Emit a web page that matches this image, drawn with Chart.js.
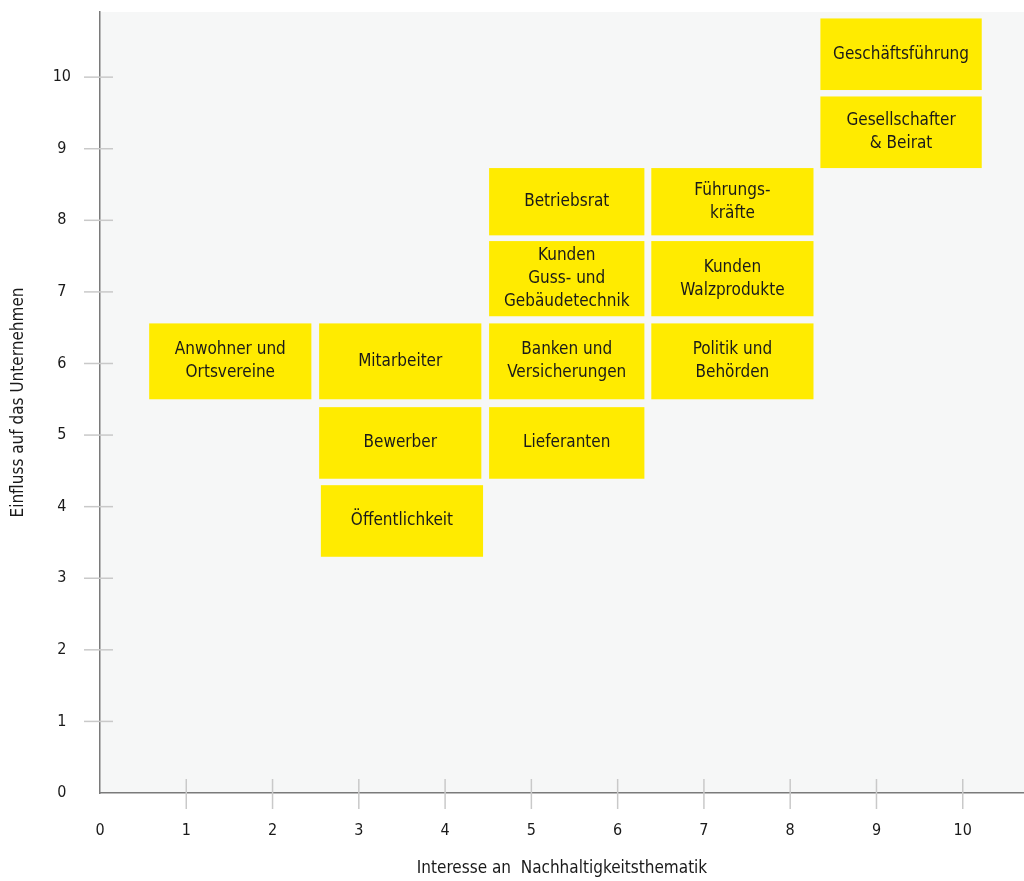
<!DOCTYPE html>
<html lang="de">
<head>
<meta charset="utf-8">
<title>Stakeholder-Matrix</title>
<script src="https://cdn.jsdelivr.net/npm/chart.js@4/dist/chart.umd.min.js"></script>
<style>
  body { margin: 0; background: #fff; }
  canvas { display: block; }
</style>
</head>
<body>
<canvas id="matrixChart" width="1024" height="881"></canvas>
<script>
// Stakeholder groups (each entry is one line of text in its box)
const groups = [
    ['Geschäftsführung'],
    ['Gesellschafter', '& Beirat'],
    ['Betriebsrat'],
    ['Führungs-', 'kräfte'],
    ['Kunden', 'Guss- und', 'Gebäudetechnik'],
    ['Kunden', 'Walzprodukte'],
    ['Anwohner und', 'Ortsvereine'],
    ['Mitarbeiter'],
    ['Banken und', 'Versicherungen'],
    ['Politik und', 'Behörden'],
    ['Bewerber'],
    ['Lieferanten'],
    ['Öffentlichkeit']
];

// Interest range (x) and influence range (y) of each group
const interestFrom = [8.35, 8.35, 4.51, 6.39, 4.51, 6.39, 0.57, 2.54, 4.51, 6.39, 2.54, 4.51, 2.56];
const interestTo   = [10.22, 10.22, 6.31, 8.27, 6.31, 8.27, 2.45, 4.42, 6.31, 8.27, 4.42, 6.31, 4.44];
const influenceFrom = [9.82, 8.73, 7.79, 7.79, 6.66, 6.66, 5.50, 5.50, 5.50, 5.50, 4.39, 4.39, 3.30];
const influenceTo   = [10.82, 9.73, 8.73, 8.73, 7.71, 7.71, 6.56, 6.56, 6.56, 6.56, 5.39, 5.39, 4.30];

// Axis ranges and tick labels
const xMax = 10.71;
const yMax = 10.91;
const tickValues = [0, 1, 2, 3, 4, 5, 6, 7, 8, 9, 10];

const fontFamily = '"Liberation Sans Narrow", "DejaVu Sans Condensed", "Noto Sans", sans-serif';
const textColor = '#1a1a1a';

// Light background behind the plot area
const plotBackground = {
    id: 'plotBackground',
    beforeDraw(chart) {
        const { ctx, chartArea } = chart;
        ctx.save();
        ctx.fillStyle = '#f6f7f7';
        ctx.fillRect(chartArea.left, chartArea.top, chartArea.right - chartArea.left, chartArea.bottom - chartArea.top);
        ctx.restore();
    }
};

// Tick marks that cross the axis lines
const crossTicks = {
    id: 'crossTicks',
    afterDraw(chart) {
        const { ctx, scales: { x, y } } = chart;
        ctx.save();
        ctx.strokeStyle = '#c9c9c9';
        ctx.lineWidth = 1.5;
        tickValues.forEach(v => {
            if (v === 0) return;
            const px = x.getPixelForValue(v);
            ctx.beginPath();
            ctx.moveTo(px, x.top - 14);
            ctx.lineTo(px, x.top + 16);
            ctx.stroke();
            const py = y.getPixelForValue(v);
            ctx.beginPath();
            ctx.moveTo(y.right - 16, py);
            ctx.lineTo(y.right + 13, py);
            ctx.stroke();
        });
        ctx.restore();
    }
};

// Yellow boxes with the group names
const groupBoxes = {
    id: 'groupBoxes',
    afterDatasetsDraw(chart) {
        const { ctx, scales: { x, y } } = chart;
        ctx.save();
        ctx.font = '17px ' + fontFamily;
        ctx.textAlign = 'center';
        ctx.textBaseline = 'middle';
        groups.forEach((lines, i) => {
            const left = x.getPixelForValue(interestFrom[i]);
            const right = x.getPixelForValue(interestTo[i]);
            const top = y.getPixelForValue(influenceTo[i]);
            const bottom = y.getPixelForValue(influenceFrom[i]);
            ctx.fillStyle = '#ffeb00';
            ctx.fillRect(left, top, right - left, bottom - top);

            ctx.fillStyle = textColor;
            const lineHeight = 23;
            const cx = (left + right) / 2;
            const cy = (top + bottom) / 2 - (lines.length - 1) * lineHeight / 2;
            lines.forEach((line, j) => ctx.fillText(line, cx, cy + j * lineHeight));
        });
        ctx.restore();
    }
};

const chart = new Chart(document.getElementById('matrixChart'), {
    type: 'scatter',
    data: { datasets: [{ data: [] }] },
    options: {
        responsive: false,
        animation: false,
        layout: { padding: { top: 12, right: 0, left: 0, bottom: 0 } },
        plugins: { legend: { display: false }, tooltip: { enabled: false } },
        scales: {
            x: {
                type: 'linear',
                min: 0,
                max: xMax,
                afterFit(scale) {
                    scale.height = 88;
                    scale.paddingLeft = 0;
                    scale.paddingRight = 0;
                },
                border: { display: true, color: '#7a7a7a', width: 1.5 },
                grid: { drawOnChartArea: false, drawTicks: false },
                ticks: {
                    stepSize: 1,
                    includeBounds: false,
                    padding: 28,
                    color: textColor,
                    font: { family: fontFamily, size: 16 }
                },
                title: {
                    display: true,
                    text: 'Interesse an  Nachhaltigkeitsthematik',
                    color: textColor,
                    font: { family: fontFamily, size: 17 },
                    padding: { top: 0, bottom: 2 }
                }
            },
            y: {
                type: 'linear',
                min: 0,
                max: yMax,
                afterFit(scale) {
                    scale.width = 100;
                    scale.paddingTop = 0;
                    scale.paddingBottom = 0;
                },
                border: { display: true, color: '#7a7a7a', width: 1.5 },
                grid: { drawOnChartArea: false, drawTicks: false },
                ticks: {
                    stepSize: 1,
                    includeBounds: false,
                    padding: 29,
                    crossAlign: 'center',
                    color: textColor,
                    font: { family: fontFamily, size: 16 }
                },
                title: {
                    display: true,
                    text: 'Einfluss auf das Unternehmen',
                    color: textColor,
                    font: { family: fontFamily, size: 17 },
                    padding: { top: 8, bottom: 0 }
                }
            }
        }
    },
    plugins: [plotBackground, crossTicks, groupBoxes]
});
</script>
</body>
</html>
